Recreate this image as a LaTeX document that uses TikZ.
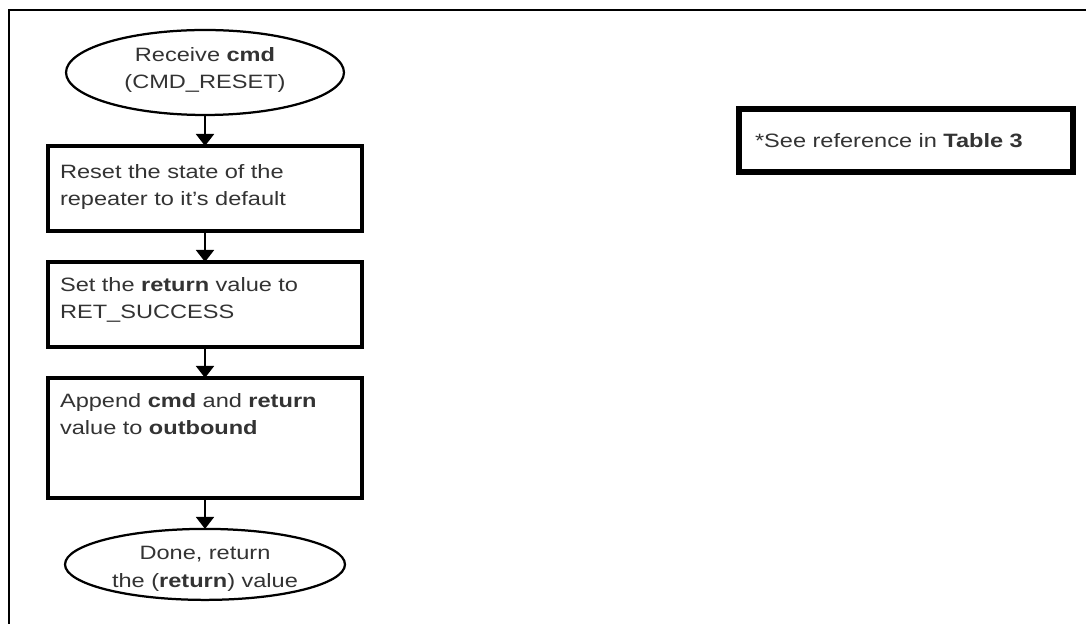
\documentclass[tikz,border=0pt]{standalone}
\usepackage{fontspec}
\setmainfont{Liberation Sans}[FakeStretch=1.22]
\usetikzlibrary{positioning,shapes.geometric,arrows.meta}

\begin{document}
\begin{tikzpicture}[
    x=0.02cm, y=-0.02cm,
    node distance=0.62cm,
    every node/.style={font=\fontsize{11}{15}\selectfont, text=black!80},
    terminal/.style={draw, ellipse, line width=0.045cm, inner sep=0pt, outer sep=0pt,
      align=center},
    stepbox/.style={draw, rectangle, line width=0.07cm, inner xsep=0.24cm, inner ysep=0pt,
      outer sep=0pt, text width=5.8cm, align=left},
    notebox/.style={draw, rectangle, line width=0.12cm, inner xsep=0.32cm, outer sep=0pt,
      minimum width=6.68cm, minimum height=1.26cm, text width=6.04cm, align=left},
    flow/.style={-{Triangle[width=0.36cm,length=0.24cm]}, line width=0.04cm},
  ]
    %% Page and frame
    \fill[white] (0,0) rectangle (1086,624);
    \useasboundingbox (0,0) rectangle (1086,624);
    \draw[line width=0.05cm] (9,624) -- (9,10) -- (1086,10);

    %% Flow chart
    \node[terminal, text width=3.9cm, minimum width=5.56cm, minimum height=1.7cm,
      text height=0.3cm, text depth=0.72cm] (recv) at (205,72.5)
      {Receive \textbf{cmd}\\(CMD\_RESET)};
    \node[stepbox, text height=0.66cm, text depth=1.04cm, below=of recv] (reset)
      {Reset the state of the\\repeater to it\char"27 s default};
    \node[stepbox, text height=0.6cm, text depth=1.1cm, below=of reset] (setret)
      {Set the \textbf{return} value to\\RET\_SUCCESS};
    \node[stepbox, text height=0.6cm, text depth=1.8cm, below=of setret] (append)
      {Append \textbf{cmd} and \textbf{return}\\value to \textbf{outbound}};
    \node[terminal, text width=3.9cm, minimum width=5.6cm, minimum height=1.42cm,
      text height=0.3cm, text depth=0.48cm, below=of append] (done)
      {Done, return\\[0.02cm]the (\textbf{return}) value};

    \draw[flow] (recv.south) -- (reset.north);
    \draw[flow] (reset.south) -- (setret.north);
    \draw[flow] (setret.south) -- (append.north);
    \draw[flow] (append.south) -- (done.north);

    %% Side note
    \node[notebox] (note) at (906,140.5) {*See reference in \textbf{Table 3}};
\end{tikzpicture}
\end{document}
